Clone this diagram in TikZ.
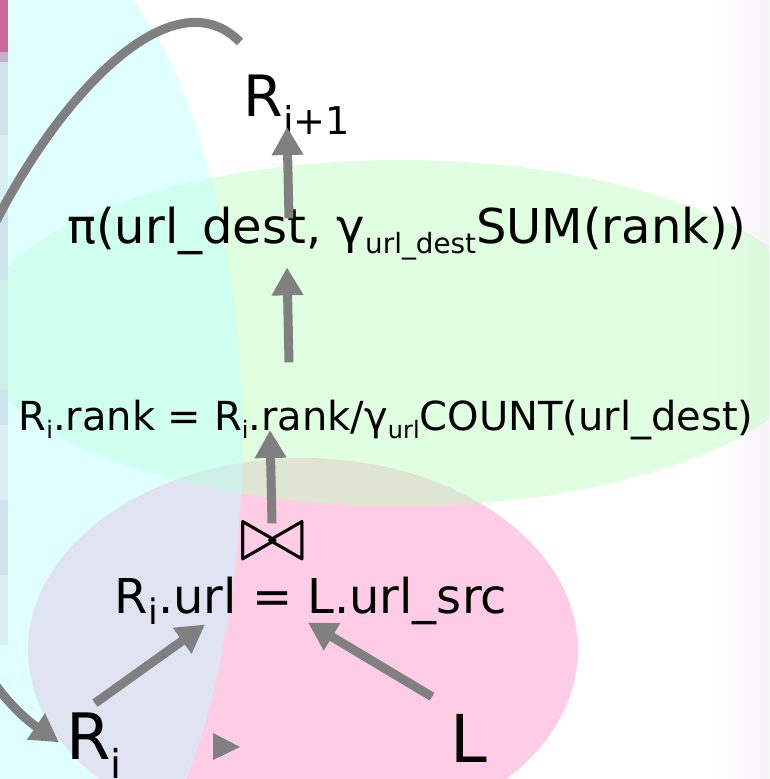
\documentclass[tikz,border=0pt]{standalone}
\usepackage{fontspec}
\setmainfont{DejaVu Sans}
\usepackage{graphicx}
\usepackage{tikz}
\usetikzlibrary{arrows.meta,calc}
\definecolor{blobpink}{HTML}{FFCCE6}
\definecolor{blobgreen}{HTML}{C1FFC1}
\definecolor{blobcyan}{HTML}{BBFFFF}
\definecolor{flowgray}{HTML}{808080}
\definecolor{edgefade}{HTML}{F7F3F6}
\definecolor{stripmag}{HTML}{C8689A}
\definecolor{stripmauve}{HTML}{C8B0CC}
\definecolor{stripblue}{HTML}{CCE4EE}
\definecolor{striplight}{HTML}{D8F0F4}
\definecolor{stripgreen}{HTML}{CCF0E8}
\newcommand{\fs}[1]{\fontsize{#1pt}{#1pt}\selectfont}
\newcommand{\lo}[3]{\raisebox{-#2em}{\scalebox{#1}{#3}}}
\tikzset{
  relnode/.style   = {inner sep=0pt, anchor=base, text=black},
  flowarrow/.style = {-{Triangle[length=28pt,width=30pt]}, line width=9pt, draw=flowgray},
  blob/.style      = {draw=none},
}

\begin{document}
\begin{tikzpicture}[x=1pt, y=-1pt]
\useasboundingbox (0,0) rectangle (769,779);
\clip (0,0) rectangle (769,779);
% faint slide edge on the right
\shade[left color=white, right color=edgefade] (715,0) rectangle (769,779);

% Overlapping sets
\fill[blob, blobpink] (303,650) ellipse [x radius=275, y radius=192];
\fill[blob, blobgreen, fill opacity=0.5] (400,333) ellipse [x radius=425, y radius=173];
\fill[blob, blobcyan, fill opacity=0.45] (30,440) ellipse [x radius=212, y radius=503];

% Strip on the left edge
\foreach \ya/\yb/\col in {0/52/stripmag, 52/62/stripmauve, 62/135/stripblue,
    135/200/striplight, 200/280/stripblue, 280/390/stripgreen, 390/425/stripblue,
    425/500/striplight, 500/575/stripblue, 575/645/striplight}
  \fill[\col] (0,\ya) rectangle (8,\yb);

% Plan nodes
\node[relnode, font=\fs{57}] (rnext) at (297,116) {R\lo{0.67}{0.33}{i+1}};
\node[relnode, font=\fs{48}] (proj)  at (407,243) {π(url\_dest, γ\lo{0.58}{0.22}{url\_dest}SUM(rank))};
\node[relnode, font=\fs{40}] (rank)  at (386,430) {R\lo{0.6}{0.22}{i}.rank = R\lo{0.6}{0.22}{i}.rank/γ\lo{0.6}{0.22}{url}COUNT(url\_dest)};
\node[inner sep=0pt] (join) at (273,542) {\resizebox{66pt}{!}{$\bowtie$}};
\node[relnode, font=\fs{48}] (cond)  at (311,613) {R\lo{0.73}{0.23}{i}.url = L.url\_src};
\node[relnode, font=\fs{64}] (ri)    at (94,759) {R\lo{0.62}{0.3}{i}};
\node[relnode, font=\fs{66}] (lrel)  at (469,762) {L};

% Flow arrows
\draw[flowarrow] ([xshift=1pt,yshift=9pt]ri.north) -- ([xshift=-106pt]cond.south);
\draw[flowarrow] ([xshift=-37pt,yshift=17pt]lrel.north) -- ([xshift=-3pt,yshift=2pt]cond.south);
\draw[flowarrow] ([xshift=-1pt]join.north) -- ([xshift=-116pt]rank.base);
\draw[flowarrow] ([xshift=-97pt,yshift=37pt]rank.north) -- ([xshift=-120pt,yshift=-7pt]proj.south);
\draw[flowarrow] ([xshift=-118pt,yshift=-12pt]proj.north) -- ([xshift=-10pt,yshift=8pt]rnext.south);

% Iteration loop back to R_i
\coordinate (loopstart) at (240,42);
\draw[flowarrow] (loopstart) .. controls (140,-60) and (-70,260) .. (-70,450)
  .. controls (-70,630) and (9,708) .. ([xshift=-7pt,yshift=3pt]ri.west);
\fill[flowgray] (213,733) -- (213,760) -- (240,747) -- cycle;
\end{tikzpicture}
\end{document}
